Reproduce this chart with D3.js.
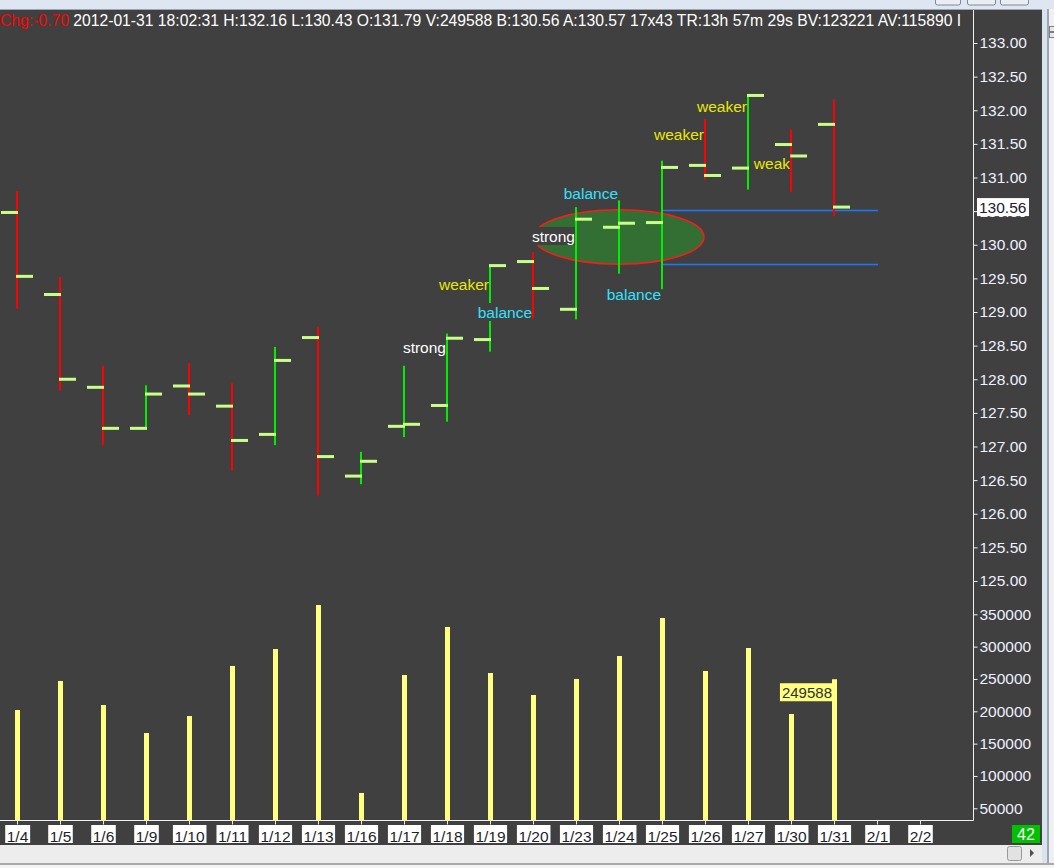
<!DOCTYPE html>
<html><head><meta charset="utf-8">
<script src="https://cdn.jsdelivr.net/npm/d3@7"></script>
<style>html,body{margin:0;padding:0;background:#404040;overflow:hidden}</style>
</head><body><svg id="c" width="1054" height="868" xmlns="http://www.w3.org/2000/svg"></svg>
<script>
// ---- data ----
const dates = ["1/4","1/5","1/6","1/9","1/10","1/11","1/12","1/13","1/16","1/17","1/18","1/19","1/20","1/23","1/24","1/25","1/26","1/27","1/30","1/31","2/1","2/2"];
const opens  = [130.48,129.26,127.88,127.27,127.90,127.60,127.18,128.62,126.56,127.30,127.61,128.59,129.75,129.04,130.26,130.33,131.18,131.14,131.49,131.79];
const highs  = [130.80,129.52,128.20,127.91,128.24,127.94,128.48,128.78,126.92,128.20,128.68,129.70,129.89,130.56,130.66,131.25,131.87,132.22,131.71,132.16];
const lows   = [129.05,127.83,127.02,127.27,127.47,126.64,127.02,126.27,126.44,127.14,127.37,128.41,128.91,128.89,129.57,129.34,130.97,130.82,130.79,130.43];
const closes = [129.53,128.00,127.27,127.78,127.78,127.09,128.28,126.85,126.78,127.33,128.61,129.69,129.35,130.38,130.32,131.15,131.03,132.22,131.32,130.56];
const volumes = [202000,246900,209700,166400,192700,270100,296300,364400,73700,256100,330400,259200,225200,250000,285500,344300,262300,297900,195800,249588];
const priceTicks = d3.range(125, 133.001, 0.5);
const volumeTicks = [50000,100000,150000,200000,250000,300000,350000];
const annLabels = ["strong","weaker","balance","strong","balance","balance","weaker","weaker","weak"];
const annDates  = ["1/18","1/19","1/20","1/23","1/24","1/25","1/26","1/27","1/30"];
const annPrices = [128.47,129.41,129.00,130.13,130.77,129.26,131.64,132.05,131.21];
const annKinds  = ["w","y","c","w","c","c","y","y","y"];
const zoneLevels = [130.52, 129.71];
const zoneStart = "1/25", zoneEnd = "2/1", zoneCenter = "1/24";
const headerChg = "Chg:-0.70";
const headerInfo = " 2012-01-31 18:02:31 H:132.16 L:130.43 O:131.79 V:249588 B:130.56 A:130.57 17x43 TR:13h 57m 29s BV:123221 AV:115890 I";
const lastPrice = 130.56, lastVolume = 249588, barCount = "42";

// ---- setup ----
const svg = d3.select("#c");
const FONT = "'Liberation Sans', Arial, sans-serif";
const BG = "#404040";
const kindColor = {w:"#ffffff", y:"#e8e800", c:"#33e0ff"};

const x = d3.scalePoint().domain(dates).range([17, 17 + 43*(dates.length-1)]);
const yP = d3.scaleLinear().domain([125,133]).range([581,43]);
const yV = d3.scaleLinear().domain([50000,350000]).range([808.3,614.3]);
const axisX = 973, volBase = 820;

svg.append("rect").attr("width",1054).attr("height",868).attr("fill",BG);

const defs = svg.append("defs");
defs.append("clipPath").attr("id","pclip").append("rect").attr("x",0).attr("y",10).attr("width",axisX).attr("height",578);
defs.append("clipPath").attr("id","hclip").append("rect").attr("x",0).attr("y",0).attr("width",966).attr("height",40);
defs.append("clipPath").attr("id","aclip").append("rect").attr("x",axisX).attr("y",10).attr("width",80).attr("height",578);

const bars = dates.slice(0, opens.length).map((d,i)=>({d, o:opens[i], h:highs[i], l:lows[i], c:closes[i], v:volumes[i]}));

// ---- price pane ----
const pp = svg.append("g").attr("clip-path","url(#pclip)");
const ex = x(zoneCenter), ey = (yP(zoneLevels[0])+yP(zoneLevels[1]))/2;
pp.append("ellipse").attr("cx",ex).attr("cy",ey)
  .attr("rx", x("1/26")-x(zoneCenter)-1).attr("ry",(yP(zoneLevels[1])-yP(zoneLevels[0]))/2)
  .attr("fill","#336f33").attr("stroke","#ff1a1a").attr("stroke-width",1.5);
pp.selectAll("line.zone").data(zoneLevels).join("line").attr("class","zone")
  .attr("x1",x(zoneStart)).attr("x2",x(zoneEnd)+1)
  .attr("y1",d=>Math.round(yP(d))+0.5).attr("y2",d=>Math.round(yP(d))+0.5)
  .attr("stroke","#1a78ff").attr("stroke-width",1.5);

const bg = pp.append("g");
bg.selectAll("rect.hl").data(bars).join("rect").attr("class","hl")
  .attr("x",d=>x(d.d)-1).attr("width",2)
  .attr("y",d=>yP(d.h)).attr("height",d=>yP(d.l)-yP(d.h))
  .attr("fill",d=>d.c>d.o?"#00ee00":"#ff0000");
bg.selectAll("rect.op").data(bars).join("rect").attr("class","op")
  .attr("x",d=>x(d.d)-16).attr("width",17)
  .attr("y",d=>yP(d.o)-1.5).attr("height",3).attr("fill","#c8ff88");
bg.selectAll("rect.cl").data(bars).join("rect").attr("class","cl")
  .attr("x",d=>x(d.d)-1).attr("width",17)
  .attr("y",d=>yP(d.c)-1.5).attr("height",3).attr("fill","#c8ff88");

const anns = annLabels.map((t,i)=>({t, d:annDates[i], p:annPrices[i], k:annKinds[i]}));
const ag = pp.append("g");
anns.forEach(a=>{
  const g = ag.append("g");
  const r = g.append("rect").attr("fill",BG);
  const t = g.append("text").attr("x",x(a.d)-1).attr("y",yP(a.p)).attr("dy","0.36em")
    .attr("text-anchor","end").attr("font-family",FONT).attr("font-size","15.5px")
    .attr("fill",kindColor[a.k]).text(a.t);
  const b = t.node().getBBox();
  r.attr("x",b.x).attr("y",yP(a.p)-9).attr("width",b.width).attr("height",18);
});

// ---- volume pane ----
svg.append("g").selectAll("rect.vol").data(bars).join("rect").attr("class","vol")
  .attr("x",d=>x(d.d)-2).attr("width",5)
  .attr("y",d=>yV(d.v)).attr("height",d=>volBase-yV(d.v)).attr("fill","#ffff80");
{
  const lx = x(dates[opens.length-1]) - 1, ly = yV(lastVolume) + 13;
  const g = svg.append("g");
  const r = g.append("rect").attr("fill","#ffff80");
  const t = g.append("text").attr("x",lx-1).attr("y",ly).attr("dy","0.36em").attr("text-anchor","end")
    .attr("font-family",FONT).attr("font-size","15px").attr("fill","#303030").text(String(lastVolume));
  const b = t.node().getBBox();
  r.attr("x",b.x-2).attr("y",ly-9).attr("width",b.width+3).attr("height",18);
}

// ---- axes ----
const ax = svg.append("g");
ax.append("line").attr("x1",axisX+0.5).attr("x2",axisX+0.5).attr("y1",10).attr("y2",volBase+0.5).attr("stroke","#f0f0f0");
ax.append("line").attr("x1",0).attr("x2",axisX+0.5).attr("y1",volBase+0.5).attr("y2",volBase+0.5).attr("stroke","#f0f0f0");

const paOuter = svg.append("g").attr("clip-path","url(#aclip)");
const pa = paOuter.append("g").attr("transform",`translate(${axisX+0.5},0)`);
pa.call(d3.axisRight(yP).tickValues(priceTicks).tickFormat(d3.format(".2f")).tickSize(4).tickPadding(2));
const va = svg.append("g").attr("transform",`translate(${axisX+0.5},0)`);
va.call(d3.axisRight(yV).tickValues(volumeTicks).tickFormat(d3.format("d")).tickSize(4).tickPadding(2));
[pa,va].forEach(g=>{
  g.select(".domain").remove();
  g.selectAll(".tick line").attr("stroke","#f0f0f0");
  g.selectAll(".tick text").attr("fill","#eef0ff").attr("font-family",FONT).attr("font-size","15.5px");
});

// last price label (covers the nearby grid label, as in the source)
{
  const ly = yP(lastPrice);
  svg.append("rect").attr("x",axisX+4).attr("y",ly-9).attr("width",52).attr("height",18).attr("fill","#ffffff");
  svg.append("text").attr("x",axisX+6).attr("y",ly).attr("dy","0.36em").attr("font-family",FONT)
    .attr("font-size","15.5px").attr("fill","#202030").text(d3.format(".2f")(lastPrice));
}

// date axis
const da = svg.append("g").attr("transform",`translate(0,${volBase+0.5})`);
da.call(d3.axisBottom(x).tickSize(4).tickPadding(6));
da.select(".domain").remove();
da.selectAll(".tick line").attr("stroke","#f0f0f0");
da.selectAll(".tick text").attr("fill","#1e1e2a").attr("font-family",FONT).attr("font-size","15.5px").attr("dy","0.71em");
da.selectAll(".tick").each(function(){
  const t = d3.select(this).select("text");
  const b = t.node().getBBox();
  d3.select(this).insert("rect","text").attr("x",b.x-1.5).attr("y",4.5).attr("width",b.width+3).attr("height",18).attr("fill","#ffffff");
});

svg.append("rect").attr("x",1012).attr("y",825).attr("width",28).attr("height",18).attr("fill","#00c000");
svg.append("text").attr("x",1026).attr("y",834).attr("dy","0.36em").attr("text-anchor","middle")
  .attr("font-family",FONT).attr("font-size","16px").attr("fill","#ffffff").text(barCount);

// ---- header ----
const ht = svg.append("text").attr("clip-path","url(#hclip)").attr("x",0).attr("y",26)
  .attr("font-family",FONT).attr("font-size","15.7px");
ht.append("tspan").attr("fill","#ff0000").text(headerChg);
ht.append("tspan").attr("fill","#ffffff").style("white-space","pre").text(headerInfo);

// ---- window chrome ----
svg.append("rect").attr("x",0).attr("y",0).attr("width",1054).attr("height",9).attr("fill","#dde6f1");
svg.append("line").attr("x1",0).attr("x2",1054).attr("y1",9.5).attr("y2",9.5).attr("stroke","#9aa6b4");
[[935,25],[967,28],[1000,28]].forEach(([bx,bw])=>{
  svg.append("rect").attr("x",bx+0.5).attr("y",-3).attr("width",bw).attr("height",8).attr("rx",2)
    .attr("fill","#e9eef5").attr("stroke","#7c8898");
});
svg.append("rect").attr("x",1042).attr("y",9).attr("width",12).attr("height",859).attr("fill","#d8e3f0");
svg.append("rect").attr("x",1047).attr("y",9).attr("width",2).attr("height",859).attr("fill","#9da6b0");
svg.append("rect").attr("x",1049).attr("y",9).attr("width",5).attr("height",859).attr("fill","#eef0f3");
[26,32].forEach(yy=>svg.append("rect").attr("x",1049.5).attr("y",yy+0.5).attr("width",5).attr("height",5).attr("fill","#e6e6e6").attr("stroke","#7d7d7d"));
svg.append("rect").attr("x",0).attr("y",845).attr("width",1042).attr("height",18).attr("fill","#ededed");
svg.append("rect").attr("x",0).attr("y",863).attr("width",1054).attr("height",2).attr("fill","#a8a8a8");
svg.append("rect").attr("x",0).attr("y",865).attr("width",1054).attr("height",3).attr("fill","#f4f4f4");
svg.append("rect").attr("x",1007.5).attr("y",846.5).attr("width",14).attr("height",14).attr("rx",2)
  .attr("fill","#e2e2e2").attr("stroke","#9a9a9a");
svg.append("path").attr("d","M1030,849 L1034,853 L1030,857 Z").attr("fill","#505050");
</script>
</body></html>
